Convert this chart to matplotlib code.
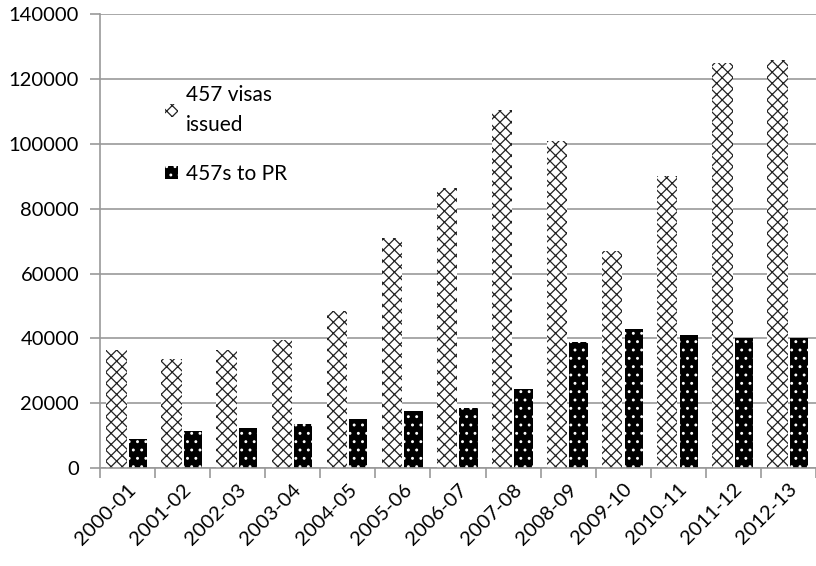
import matplotlib.pyplot as plt
import numpy as np

years = ['2000-01', '2001-02', '2002-03', '2003-04', '2004-05', '2005-06', '2006-07',
         '2007-08', '2008-09', '2009-10', '2010-11', '2011-12', '2012-13']
visas_issued = [36500, 33500, 36500, 39500, 48500, 71000, 86500,
                110500, 101000, 67000, 90000, 125000, 126000]
to_pr = [9000, 11500, 12500, 13500, 15000, 17500, 18500,
         24500, 39000, 43000, 41000, 40000, 40000]

plt.rcParams['font.family'] = ['Lato', 'DejaVu Sans']
plt.rcParams['hatch.linewidth'] = 0.9

fig = plt.figure(figsize=(8.16, 5.66), dpi=100)
ax = fig.add_axes([0.1225, 0.173, 0.8775, 0.802])

x = np.arange(len(years))
w = 0.37
ax.bar(x - 0.2, visas_issued, w, facecolor='white', edgecolor='#222222',
       hatch='xxx', linewidth=0, label='457 visas\nissued', zorder=2)
ax.bar(x + 0.19, to_pr, w * 0.9, facecolor='black', edgecolor='white',
       hatch='..', linewidth=0, label='457s to PR', zorder=2)

ax.set_xlim(-0.5, len(years) - 0.5)
ax.set_ylim(0, 140000)
ax.set_yticks(range(0, 140001, 20000))
ax.set_xticks(np.arange(len(years) + 1) - 0.5, minor=False)
ax.set_xticklabels([])
ax.set_xticks(x, minor=True)
ax.set_xticklabels(years, minor=True, rotation=45, ha='right', rotation_mode='anchor')
ax.tick_params(axis='x', which='minor', length=0, labelsize=14.5, pad=9)
ax.tick_params(axis='x', which='major', length=7, color='#999999', width=1.2)
ax.tick_params(axis='y', length=7, color='#999999', width=1.2, labelsize=14.5, pad=8)

ax.yaxis.grid(True, color='#999999', linewidth=1.2, zorder=0)
ax.set_axisbelow(True)
for s in ['top', 'right']:
    ax.spines[s].set_visible(False)
for s in ['left', 'bottom']:
    ax.spines[s].set_color('#999999')
    ax.spines[s].set_linewidth(1.2)

leg = ax.legend(loc='upper left', bbox_to_anchor=(0.065, 0.885), frameon=False,
                fontsize=15, handlelength=0.6, handleheight=0.6, handletextpad=0.4,
                labelspacing=1.4)
for t in leg.get_texts():
    t.set_linespacing(1.6)

fig.savefig('out.png')
